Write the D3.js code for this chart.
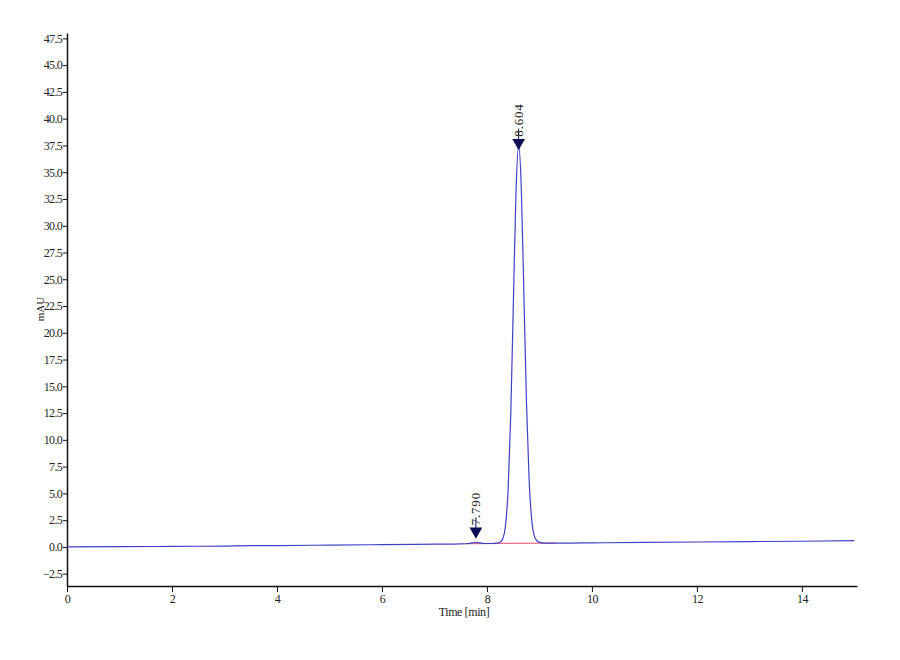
<!DOCTYPE html>
<html>
<head>
<meta charset="utf-8">
<script src="https://cdn.jsdelivr.net/npm/d3@7"></script>
<style>
  body { margin: 0; background: #fff; }
  svg text { font-family: "Liberation Serif", "Times New Roman", Times, serif; }
  .tick text { font-size: 12px; letter-spacing: -0.7px; fill: #222; }
  .domain, .tick line { stroke: #111; }
</style>
</head>
<body>
<div id="chart"></div>
<script>
// chromatogram trace (time in min, signal in mAU)
var times = [0, 1, 2, 3, 3.5, 4, 5, 6, 7, 7.5, 7.65, 7.72, 7.79, 7.86, 7.95, 8.1,
    8.204, 8.254, 8.304, 8.354, 8.404, 8.454, 8.504, 8.554, 8.604, 8.654, 8.704,
    8.754, 8.804, 8.854, 8.904, 8.954, 9.004, 9.1, 9.3, 9.6, 10, 11, 12, 13, 14, 15];
var signal = [0.0, 0.02, 0.05, 0.08, 0.12, 0.13, 0.17, 0.21, 0.26, 0.29, 0.32, 0.38, 0.42, 0.37, 0.32, 0.32,
    0.36, 0.43, 0.78, 2.0, 5.4, 12.4, 22.9, 33.2, 37.55, 33.6, 23.6,
    13.4, 6.2, 2.5, 1.0, 0.55, 0.42, 0.36, 0.35, 0.36, 0.38, 0.42, 0.46, 0.5, 0.53, 0.58];

// integration baseline under the peaks
var baseTimes = [7.6, 9.3];
var baseValues = [0.31, 0.35];

// peak markers
var peakTimes = [7.790, 8.604];
var peakMarks = [0.9, 37.2];
var peakLabels = ["7.790", "8.604"];

var yTicks = [-2.5, 0, 2.5, 5, 7.5, 10, 12.5, 15, 17.5, 20, 22.5, 25, 27.5, 30, 32.5, 35, 37.5, 40, 42.5, 45, 47.5];
var xTicks = [0, 2, 4, 6, 8, 10, 12, 14];

var margin = {top: 33, right: 43, bottom: 74, left: 67},
    width = 900 - margin.left - margin.right,
    height = 660 - margin.top - margin.bottom;

var svg = d3.select("#chart")
  .append("svg")
    .attr("width", 900)
    .attr("height", 660)
  .append("g")
    .attr("transform", "translate(" + margin.left + "," + margin.top + ")");

var x = d3.scaleLinear().domain([0, 15.05]).range([0, width]);
var y = d3.scaleLinear().domain([-3.65, 48]).range([height, 0]);

// axes
svg.append("g")
    .attr("transform", "translate(0," + height + ")")
    .call(d3.axisBottom(x).tickValues(xTicks).tickFormat(d3.format("d")).tickSize(6).tickSizeOuter(0).tickPadding(2))
    .call(function(g) { g.select(".domain").attr("stroke-width", 1.5); });

svg.append("g")
    .call(d3.axisLeft(y).tickValues(yTicks).tickFormat(d3.format(".1f")).tickSize(4).tickSizeOuter(0).tickPadding(1))
    .call(function(g) { g.select(".domain").attr("stroke-width", 1.5); });

// axis titles
svg.append("text")
    .attr("x", 464 - margin.left)
    .attr("y", height + 30)
    .attr("text-anchor", "middle")
    .style("font-size", "12px")
    .style("letter-spacing", "-0.4px")
    .style("fill", "#222")
    .text("Time [min]");

svg.append("text")
    .attr("transform", "translate(" + (40 - margin.left) + "," + (309 - margin.top) + ") rotate(-90)")
    .attr("text-anchor", "middle")
    .attr("dy", "0.35em")
    .style("font-size", "11px")
    .style("fill", "#222")
    .text("mAU");

// baseline
var baseData = baseTimes.map(function(t, i) { return [t, baseValues[i]]; });
svg.append("path")
    .datum(baseData)
    .attr("fill", "none")
    .attr("stroke", "#e8708a")
    .attr("stroke-width", 1.2)
    .attr("d", d3.line().x(function(d) { return x(d[0]); }).y(function(d) { return y(d[1]); }));

// trace
var trace = times.map(function(t, i) { return [t, signal[i]]; });
svg.append("path")
    .datum(trace)
    .attr("fill", "none")
    .attr("stroke", "#4040c6")
    .attr("stroke-width", 1.2)
    .attr("d", d3.line()
        .curve(d3.curveMonotoneX)
        .x(function(d) { return x(d[0]); })
        .y(function(d) { return y(d[1]); }));

// peak markers and labels
var peaks = peakTimes.map(function(t, i) { return {t: t, v: peakMarks[i], label: peakLabels[i]}; });

var mark = svg.selectAll(".peak")
    .data(peaks)
    .enter().append("g")
    .attr("class", "peak")
    .attr("transform", function(d) { return "translate(" + x(d.t) + "," + y(d.v) + ")"; });

mark.append("line")
    .attr("x1", 0).attr("x2", 0)
    .attr("y1", -20).attr("y2", 0)
    .attr("stroke", "#0b0b55")
    .attr("stroke-width", 1);

mark.append("path")
    .attr("transform", "translate(0,-6) rotate(180)")
    .attr("d", d3.symbol().type(d3.symbolTriangle).size(70))
    .attr("fill", "#0b0b55");

mark.append("text")
    .attr("transform", "translate(0,-12) rotate(-90)")
    .attr("dy", "0.35em")
    .attr("text-anchor", "start")
    .style("font-size", "13px")
    .style("letter-spacing", "0.8px")
    .style("fill", "#222")
    .text(function(d) { return d.label; });
</script>
</body>
</html>
